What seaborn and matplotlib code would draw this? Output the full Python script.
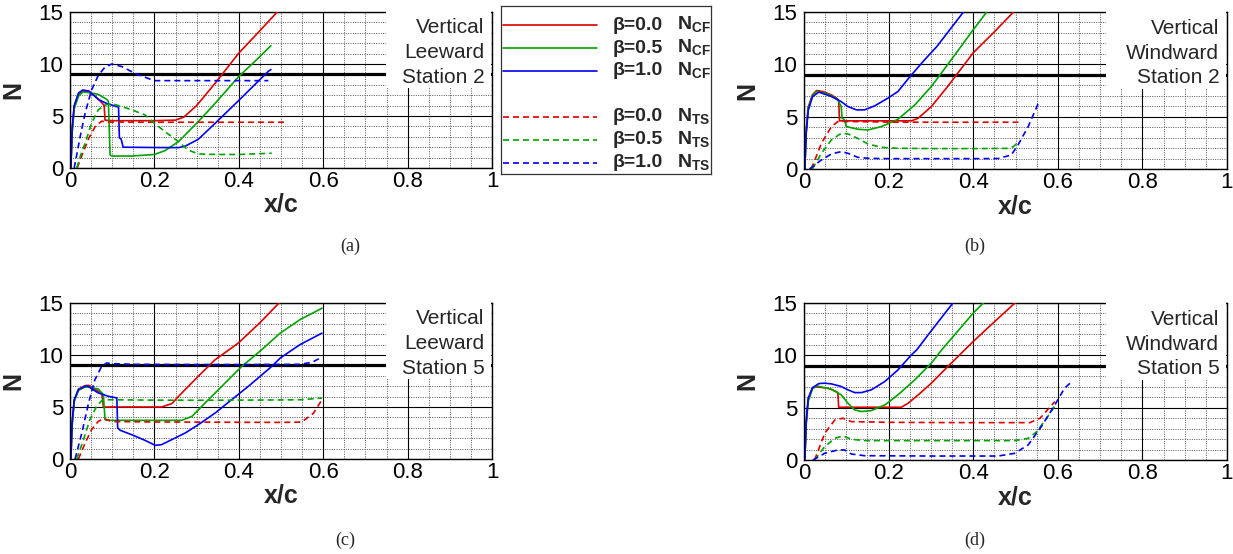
import numpy as np
import pandas as pd
import matplotlib
matplotlib.use("Agg")
import matplotlib.pyplot as plt
import seaborn as sns
from matplotlib.patches import Rectangle
from matplotlib.ticker import MultipleLocator, FixedLocator

# ---------------- data ----------------
# Panel (a) Vertical Leeward Station 2
a_cf0_x = [0.002, 0.005, 0.01, 0.02, 0.03, 0.045, 0.06, 0.075, 0.081, 0.083, 0.1, 0.15, 0.2, 0.25, 0.27, 0.3, 0.345, 0.4, 0.45, 0.5]
a_cf0_n = [0, 3.5, 5.9, 7.1, 7.4, 7.3, 6.9, 6.3, 6.0, 4.6, 4.55, 4.55, 4.55, 4.6, 4.9, 6.0, 8.2, 11.05, 13.2, 15.4]
a_cf5_x = [0.002, 0.005, 0.01, 0.02, 0.03, 0.045, 0.067, 0.087, 0.091, 0.095, 0.1, 0.146, 0.2, 0.225, 0.257, 0.304, 0.344, 0.4, 0.442, 0.476]
a_cf5_n = [0, 3.3, 5.7, 6.9, 7.3, 7.25, 7.08, 6.6, 6.4, 1.25, 1.15, 1.15, 1.3, 1.67, 2.53, 4.46, 6.22, 8.8, 10.4, 11.76]
a_cf1_x = [0.002, 0.005, 0.01, 0.02, 0.03, 0.045, 0.067, 0.087, 0.115, 0.117, 0.121, 0.126, 0.2, 0.257, 0.273, 0.304, 0.344, 0.4, 0.47, 0.476]
a_cf1_n = [0, 3.8, 6.0, 7.2, 7.5, 7.4, 6.6, 6.2, 5.85, 2.9, 2.8, 2.0, 1.97, 1.96, 2.1, 2.76, 4.3, 6.5, 9.3, 9.46]
a_ts0_x = [0.017, 0.03, 0.045, 0.06, 0.075, 0.09, 0.2, 0.3, 0.4, 0.508]
a_ts0_n = [0, 1.4, 2.9, 4.0, 4.5, 4.42, 4.4, 4.4, 4.4, 4.4]
a_ts5_x = [0.016, 0.025, 0.036, 0.051, 0.067, 0.083, 0.099, 0.123, 0.146, 0.178, 0.2, 0.225, 0.257, 0.28, 0.304, 0.35, 0.4, 0.478]
a_ts5_n = [0, 1.2, 2.4, 4.3, 5.6, 6.05, 6.2, 5.9, 5.6, 5.1, 4.3, 3.5, 2.53, 1.73, 1.35, 1.3, 1.3, 1.42]
a_ts1_x = [0.01, 0.024, 0.036, 0.051, 0.067, 0.083, 0.099, 0.123, 0.154, 0.186, 0.2, 0.3, 0.4, 0.47]
a_ts1_n = [0, 3.0, 5.3, 7.5, 8.9, 9.7, 10.0, 9.75, 9.1, 8.6, 8.4, 8.4, 8.4, 8.4]

# Panel (b) Vertical Windward Station 2
b_cf0_x = [0.002, 0.005, 0.01, 0.02, 0.03, 0.045, 0.065, 0.08, 0.082, 0.084, 0.1, 0.2, 0.254, 0.27, 0.301, 0.34, 0.4, 0.45, 0.5]
b_cf0_n = [0, 3.5, 5.9, 7.1, 7.5, 7.4, 7.08, 6.67, 6.5, 4.6, 4.6, 4.6, 4.6, 4.85, 5.96, 7.9, 11.1, 13.1, 15.2]
b_cf5_x = [0.002, 0.005, 0.01, 0.02, 0.03, 0.045, 0.065, 0.08, 0.088, 0.09, 0.096, 0.1, 0.127, 0.151, 0.183, 0.222, 0.262, 0.301, 0.348, 0.4, 0.432]
b_cf5_n = [0, 3.5, 5.8, 7.0, 7.4, 7.3, 7.0, 6.6, 5.96, 4.85, 4.7, 4.05, 3.8, 3.73, 4.05, 4.75, 6.12, 7.88, 10.43, 13.3, 15.0]
b_cf1_x = [0.002, 0.005, 0.01, 0.02, 0.035, 0.065, 0.088, 0.104, 0.124, 0.143, 0.167, 0.198, 0.222, 0.25, 0.285, 0.314, 0.377]
b_cf1_n = [0, 3.3, 5.6, 6.9, 7.35, 6.92, 6.44, 5.96, 5.65, 5.65, 6.03, 6.76, 7.4, 8.8, 10.43, 11.7, 15.0]
b_ts0_x = [0.017, 0.03, 0.041, 0.065, 0.08, 0.09, 0.2, 0.3, 0.4, 0.507]
b_ts0_n = [0, 1.3, 2.46, 4.05, 4.53, 4.55, 4.48, 4.47, 4.47, 4.47]
b_ts5_x = [0.02, 0.041, 0.065, 0.088, 0.104, 0.127, 0.151, 0.183, 0.222, 0.3, 0.4, 0.482, 0.495, 0.507]
b_ts5_n = [0, 1.5, 2.78, 3.41, 3.35, 2.93, 2.39, 2.07, 1.98, 1.95, 1.95, 1.97, 2.13, 2.6]
b_ts1_x = [0.013, 0.041, 0.065, 0.088, 0.104, 0.127, 0.151, 0.2, 0.3, 0.4, 0.459, 0.49, 0.506, 0.53, 0.554]
b_ts1_n = [0, 0.86, 1.44, 1.66, 1.5, 1.12, 1.02, 0.99, 0.99, 0.99, 1.0, 1.34, 2.3, 4.05, 6.28]

# Panel (c) Vertical Leeward Station 5
c_cf0_x = [0.002, 0.005, 0.01, 0.02, 0.035, 0.045, 0.067, 0.075, 0.077, 0.079, 0.1, 0.217, 0.241, 0.265, 0.304, 0.344, 0.399, 0.45, 0.5]
c_cf0_n = [0, 3.3, 5.6, 6.7, 7.05, 7.08, 6.5, 6.35, 5.8, 5.0, 5.0, 5.0, 5.32, 6.35, 7.95, 9.55, 11.15, 13.1, 15.2]
c_cf5_x = [0.002, 0.005, 0.01, 0.02, 0.035, 0.045, 0.067, 0.079, 0.083, 0.087, 0.15, 0.265, 0.289, 0.32, 0.36, 0.407, 0.454, 0.498, 0.545, 0.597]
c_cf5_n = [0, 3.2, 5.5, 6.6, 6.9, 6.92, 6.73, 6.19, 3.8, 3.72, 3.72, 3.72, 4.1, 5.38, 7.0, 8.9, 10.5, 12.1, 13.4, 14.5]
c_cf1_x = [0.002, 0.005, 0.01, 0.02, 0.04, 0.067, 0.091, 0.111, 0.113, 0.119, 0.146, 0.178, 0.202, 0.217, 0.241, 0.273, 0.304, 0.344, 0.383, 0.423, 0.478, 0.498, 0.545, 0.597]
c_cf1_n = [0, 3.5, 5.7, 6.7, 7.05, 6.35, 6.03, 5.87, 2.98, 2.76, 2.34, 1.79, 1.31, 1.38, 1.86, 2.5, 3.3, 4.42, 5.7, 7.0, 8.9, 9.7, 11.0, 12.1]
c_ts0_x = [0.02, 0.036, 0.051, 0.067, 0.079, 0.09, 0.1, 0.2, 0.3, 0.4, 0.5, 0.549, 0.577, 0.597]
c_ts0_n = [0, 1.54, 2.82, 3.62, 3.88, 3.75, 3.6, 3.56, 3.55, 3.53, 3.52, 3.55, 4.4, 5.7]
c_ts5_x = [0.016, 0.032, 0.047, 0.063, 0.075, 0.087, 0.2, 0.3, 0.4, 0.5, 0.549, 0.597]
c_ts5_n = [0, 1.86, 3.78, 5.06, 5.6, 5.7, 5.66, 5.65, 5.66, 5.68, 5.7, 5.86]
c_ts1_x = [0.012, 0.028, 0.044, 0.059, 0.075, 0.087, 0.099, 0.15, 0.3, 0.4, 0.545, 0.574, 0.597]
c_ts1_n = [0, 2.5, 5.38, 7.63, 8.9, 9.23, 9.17, 9.1, 9.08, 9.08, 9.1, 9.3, 9.8]

# Panel (d) Vertical Windward Station 5
d_cf0_x = [0.002, 0.005, 0.01, 0.02, 0.025, 0.057, 0.076, 0.08, 0.082, 0.1, 0.23, 0.246, 0.27, 0.301, 0.34, 0.4, 0.45, 0.5]
d_cf0_n = [0, 3.5, 5.8, 6.9, 7.0, 6.86, 6.54, 6.4, 5.04, 5.04, 5.04, 5.42, 6.22, 7.34, 8.93, 11.32, 13.2, 15.05]
d_cf5_x = [0.002, 0.005, 0.01, 0.02, 0.03, 0.065, 0.088, 0.104, 0.12, 0.136, 0.159, 0.191, 0.222, 0.262, 0.301, 0.325, 0.4, 0.424]
d_cf5_n = [0, 3.3, 5.6, 6.8, 7.08, 6.76, 6.22, 5.42, 4.78, 4.63, 4.72, 5.26, 6.22, 7.66, 9.25, 10.5, 14.03, 15.0]
d_cf1_x = [0.002, 0.005, 0.01, 0.02, 0.035, 0.049, 0.065, 0.088, 0.104, 0.12, 0.136, 0.159, 0.191, 0.222, 0.254, 0.266, 0.3, 0.352]
d_cf1_n = [0, 3.6, 5.9, 6.9, 7.3, 7.34, 7.27, 7.02, 6.7, 6.44, 6.44, 6.7, 7.5, 8.6, 10.05, 10.5, 12.3, 15.0]
d_ts0_x = [0.025, 0.049, 0.073, 0.092, 0.112, 0.2, 0.3, 0.4, 0.534, 0.558, 0.593]
d_ts0_n = [0, 2.55, 3.83, 3.99, 3.67, 3.6, 3.58, 3.57, 3.57, 3.99, 5.58]
d_ts5_x = [0.025, 0.049, 0.073, 0.092, 0.112, 0.143, 0.3, 0.4, 0.498, 0.53, 0.55, 0.572, 0.592]
d_ts5_n = [0, 1.28, 2.07, 2.3, 1.98, 1.85, 1.85, 1.85, 1.85, 2.07, 2.7, 3.9, 5.1]
d_ts1_x = [0.021, 0.049, 0.08, 0.096, 0.112, 0.143, 0.3, 0.459, 0.498, 0.53, 0.561, 0.593, 0.616, 0.629]
d_ts1_n = [0, 0.64, 0.96, 0.96, 0.57, 0.41, 0.38, 0.38, 0.64, 1.44, 3.19, 5.26, 6.86, 7.34]

betas = ["0.0", "0.5", "1.0"]
kinds = ["CF", "TS"]
panel_titles = ["Vertical\nLeeward\nStation 2", "Vertical\nWindward\nStation 2",
                "Vertical\nLeeward\nStation 5", "Vertical\nWindward\nStation 5"]
captions = ["(a)", "(b)", "(c)", "(d)"]
threshold = 9
x_ticks = [0, 0.2, 0.4, 0.6, 0.8, 1]
x_ticklabels = ["0", "0.2", "0.4", "0.6", "0.8", "1"]
y_ticks = [0, 5, 10, 15]

panel_data = {
    "a": [(a_cf0_x, a_cf0_n), (a_cf5_x, a_cf5_n), (a_cf1_x, a_cf1_n), (a_ts0_x, a_ts0_n), (a_ts5_x, a_ts5_n), (a_ts1_x, a_ts1_n)],
    "b": [(b_cf0_x, b_cf0_n), (b_cf5_x, b_cf5_n), (b_cf1_x, b_cf1_n), (b_ts0_x, b_ts0_n), (b_ts5_x, b_ts5_n), (b_ts1_x, b_ts1_n)],
    "c": [(c_cf0_x, c_cf0_n), (c_cf5_x, c_cf5_n), (c_cf1_x, c_cf1_n), (c_ts0_x, c_ts0_n), (c_ts5_x, c_ts5_n), (c_ts1_x, c_ts1_n)],
    "d": [(d_cf0_x, d_cf0_n), (d_cf5_x, d_cf5_n), (d_cf1_x, d_cf1_n), (d_ts0_x, d_ts0_n), (d_ts5_x, d_ts5_n), (d_ts1_x, d_ts1_n)],
}

# ---------------- style ----------------
sns.set_theme(style="white")
plt.rcParams["font.family"] = ["Liberation Sans", "DejaVu Sans"]
plt.rcParams["mathtext.fontset"] = "custom"
plt.rcParams["mathtext.rm"] = "Liberation Sans"
plt.rcParams["mathtext.bf"] = "Liberation Sans:bold"

colors = {"0.0": "#dd0000", "0.5": "#00a400", "1.0": "#0000f5"}
styles = {"CF": "-", "TS": (0, (3.6, 2.4))}
LW = 1.2

W, H = 1233, 554
fig = plt.figure(figsize=(W / 100, H / 100), dpi=100)

def fbox(x0, y0, x1, y1):
    return [x0 / W, 1 - y1 / H, (x1 - x0) / W, (y1 - y0) / H]

panel_px = {"a": (70, 12, 492, 168), "b": (804, 12, 1227, 169),
            "c": (70, 303, 492, 459), "d": (804, 303, 1227, 460)}
box_left = {"a": 0.749, "b": 0.714, "c": 0.749, "d": 0.714}
caption_pos = {"a": (350, 246), "b": (975, 246), "c": (345, 540), "d": (975, 540)}

for key, title, cap in zip(["a", "b", "c", "d"], panel_titles, captions):
    ax = fig.add_axes(fbox(*panel_px[key]))
    rows = []
    for i, (xs, ns) in enumerate(panel_data[key]):
        kind = kinds[i // 3]
        beta = betas[i % 3]
        rows.append(pd.DataFrame({"x": xs, "N": ns, "beta": beta, "kind": kind}))
    df = pd.concat(rows, ignore_index=True)
    for (kind, beta), sub in df.groupby(["kind", "beta"], sort=False):
        sns.lineplot(data=sub, x="x", y="N", sort=False, estimator=None, ax=ax,
                     color=colors[beta], linestyle=styles[kind], linewidth=LW,
                     legend=False, zorder=3)
    ax.axhline(threshold, color="black", lw=2.3, zorder=2.6)

    ax.set_xlim(0, 1)
    ax.set_ylim(0, 15)
    ax.xaxis.set_major_locator(FixedLocator(x_ticks))
    ax.set_xticklabels(x_ticklabels)
    ax.yaxis.set_major_locator(FixedLocator(y_ticks))
    ax.xaxis.set_minor_locator(MultipleLocator(0.05))
    ax.yaxis.set_minor_locator(MultipleLocator(1))
    ax.grid(which="major", color="black", lw=0.8, ls="-")
    ax.grid(which="minor", color="#555555", lw=0.7, ls=(0, (1, 1.4)))
    ax.set_axisbelow(True)
    ax.tick_params(which="both", length=0, labelsize=16, colors="black")
    ax.tick_params(axis="x", pad=2)
    ax.tick_params(axis="y", pad=5)
    for s in ax.spines.values():
        s.set_color("black")
        s.set_linewidth(1.0)
    ax.spines["right"].set_zorder(6)
    ax.spines["left"].set_zorder(6)
    ax.spines["bottom"].set_zorder(6)

    ax.set_xlabel("x/c", fontsize=18, fontweight="bold")
    ax.set_ylabel("N", fontsize=18, fontweight="bold")
    ax.xaxis.set_label_coords(0.5, -0.16)
    ax.yaxis.set_label_coords(-0.105, 0.5)

    bl = box_left[key]
    ax.add_patch(Rectangle((bl, 0.512), 0.998 - bl, 0.56, transform=ax.transAxes,
                           facecolor="white", edgecolor="none", zorder=5, clip_on=False))
    for line, yb in zip(title.split("\n"), [0.863, 0.703, 0.547]):
        ax.text(0.982, yb, line, transform=ax.transAxes, ha="right", va="baseline",
                fontsize=15, zorder=7)

    cx, cy = caption_pos[key]
    fig.text(cx / W, 1 - cy / H, cap, ha="center", va="center", fontsize=13,
             family=["Liberation Serif", "DejaVu Serif"])

# ---------------- legend ----------------
lax = fig.add_axes(fbox(500.7, 6, 711, 174.3))
lax.set_xlim(0, 1)
lax.set_ylim(0, 1)
lax.set_xticks([])
lax.set_yticks([])
for s in lax.spines.values():
    s.set_color("#333333")
    s.set_linewidth(0.9)
slots = [0, 1, 2, 4, 5, 6]
for j, slot in enumerate(slots):
    kind = kinds[j // 3]
    beta = betas[j % 3]
    yy = 0.887 - 0.1366 * slot
    lax.plot([0.0095, 0.4565], [yy, yy], color=colors[beta], linestyle=styles[kind], lw=LW)
    lax.text(0.534, yy, "\u03b2=" + beta, fontsize=14, fontweight="bold", va="center", ha="left")
    lax.text(0.837, yy, r"$\mathbf{N}_{\mathbf{%s}}$" % kind, fontsize=14, va="center", ha="left")

fig.savefig("out.png", dpi=100)
